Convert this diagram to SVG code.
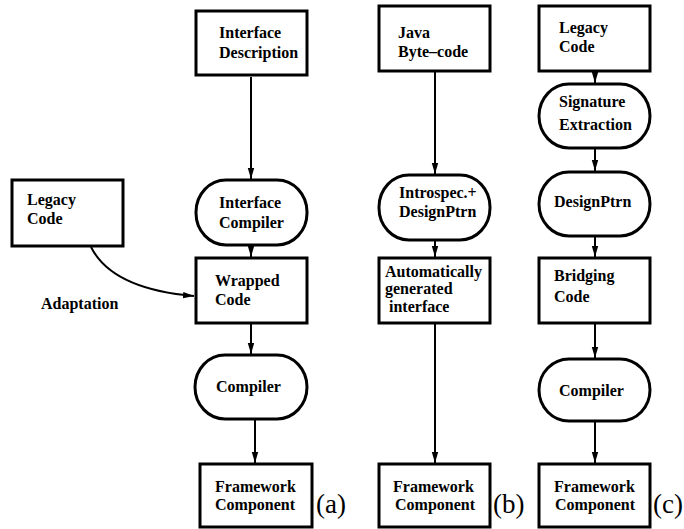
<svg xmlns="http://www.w3.org/2000/svg" width="684" height="529" viewBox="0 0 684 529">
<defs>
<style>
.box{fill:#fff;stroke:#000;stroke-width:3}
.t{font-family:"Liberation Serif","Times New Roman",serif;font-weight:bold;font-size:16px;fill:#000}
.lab{font-family:"Liberation Serif","Times New Roman",serif;font-size:27px;fill:#000}
.c{fill:none;stroke:#000;stroke-width:2}
</style>
<marker id="ah" markerUnits="userSpaceOnUse" markerWidth="12" markerHeight="8" refX="11" refY="4" orient="auto">
<path d="M0,0.8 L11,4 L0,7.2 Z" fill="#000"/>
</marker>
</defs>
<rect width="684" height="529" fill="#fff"/>
<g id="connectors">
<line class="c" x1="251" y1="77" x2="251" y2="179" marker-end="url(#ah)"/>
<line class="c" x1="251" y1="246" x2="251" y2="257" marker-end="url(#ah)"/>
<line class="c" x1="251" y1="324" x2="251" y2="354" marker-end="url(#ah)"/>
<line class="c" x1="255" y1="420" x2="255" y2="463" marker-end="url(#ah)"/>
<path class="c" d="M91,247 Q112,289 194,296" marker-end="url(#ah)"/>
<line class="c" x1="435" y1="72" x2="435" y2="174" marker-end="url(#ah)"/>
<line class="c" x1="435" y1="241" x2="435" y2="257" marker-end="url(#ah)"/>
<line class="c" x1="435" y1="324" x2="435" y2="463" marker-end="url(#ah)"/>
<line class="c" x1="595" y1="72" x2="595" y2="83" marker-end="url(#ah)"/>
<line class="c" x1="595" y1="149" x2="595" y2="171" marker-end="url(#ah)"/>
<line class="c" x1="595" y1="237" x2="595" y2="257" marker-end="url(#ah)"/>
<line class="c" x1="595" y1="324" x2="595" y2="358" marker-end="url(#ah)"/>
<line class="c" x1="595" y1="422" x2="595" y2="463" marker-end="url(#ah)"/>
</g>
<text class="t" x="41" y="309">Adaptation</text>
<g id="a-interface-description">
<rect class="box" x="196" y="11" width="111" height="64"/>
<text class="t" x="219" y="38">Interface</text>
<text class="t" x="219" y="58">Description</text>
</g>
<g id="a-interface-compiler">
<rect class="box" x="196" y="180" width="111" height="65" rx="30" ry="32"/>
<text class="t" x="219" y="208">Interface</text>
<text class="t" x="219" y="228">Compiler</text>
</g>
<g id="a-legacy-code">
<rect class="box" x="12" y="180" width="111" height="66"/>
<text class="t" x="27" y="205">Legacy</text>
<text class="t" x="27" y="224">Code</text>
</g>
<g id="a-wrapped-code">
<rect class="box" x="196" y="258" width="111" height="65"/>
<text class="t" x="215" y="286">Wrapped</text>
<text class="t" x="215" y="305">Code</text>
</g>
<g id="a-compiler">
<rect class="box" x="195" y="355" width="112" height="64" rx="30" ry="32"/>
<text class="t" x="216" y="392">Compiler</text>
</g>
<g id="a-framework">
<rect class="box" x="200" y="464" width="112" height="63"/>
<text class="t" x="215" y="492">Framework</text>
<text class="t" x="215" y="510">Component</text>
</g>
<text class="lab" x="316" y="513">(a)</text>
<g id="b-java">
<rect class="box" x="379" y="6" width="111" height="65"/>
<text class="t" x="398" y="38">Java</text>
<text class="t" x="398" y="57">Byte–code</text>
</g>
<g id="b-introspec">
<rect class="box" x="379" y="175" width="111" height="65" rx="30" ry="32"/>
<text class="t" x="399" y="198">Introspec.+</text>
<text class="t" x="399" y="217">DesignPtrn</text>
</g>
<g id="b-auto">
<rect class="box" x="379" y="258" width="111" height="65"/>
<text class="t" x="385" y="277">Automatically</text>
<text class="t" x="385" y="294">generated</text>
<text class="t" x="389" y="312">interface</text>
</g>
<g id="b-framework">
<rect class="box" x="379" y="464" width="111" height="63"/>
<text class="t" x="393" y="492">Framework</text>
<text class="t" x="395" y="510">Component</text>
</g>
<text class="lab" x="493" y="513">(b)</text>
<g id="c-legacy">
<rect class="box" x="539" y="6" width="111" height="65"/>
<text class="t" x="559" y="33">Legacy</text>
<text class="t" x="559" y="52">Code</text>
</g>
<g id="c-signature">
<rect class="box" x="539" y="84" width="111" height="64" rx="30" ry="32"/>
<text class="t" x="559" y="107">Signature</text>
<text class="t" x="559" y="130">Extraction</text>
</g>
<g id="c-designptrn">
<rect class="box" x="539" y="172" width="111" height="64" rx="30" ry="32"/>
<text class="t" x="554" y="207">DesignPtrn</text>
</g>
<g id="c-bridging">
<rect class="box" x="539" y="258" width="111" height="65"/>
<text class="t" x="554" y="281">Bridging</text>
<text class="t" x="554" y="302">Code</text>
</g>
<g id="c-compiler">
<rect class="box" x="539" y="359" width="111" height="62" rx="30" ry="31"/>
<text class="t" x="559" y="396">Compiler</text>
</g>
<g id="c-framework">
<rect class="box" x="539" y="464" width="111" height="63"/>
<text class="t" x="554" y="492">Framework</text>
<text class="t" x="555" y="510">Component</text>
</g>
<text class="lab" x="653" y="513">(c)</text>
</svg>
